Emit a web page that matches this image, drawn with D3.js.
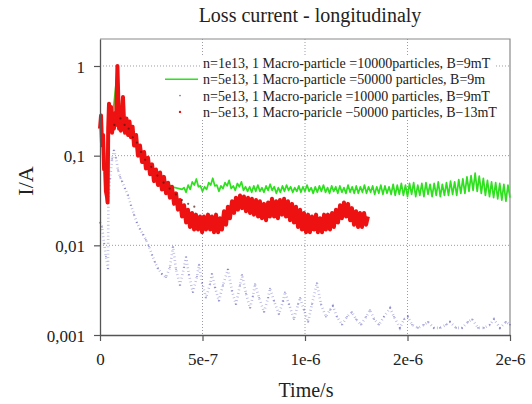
<!DOCTYPE html>
<html>
<head>
<meta charset="utf-8">
<title>Loss current - longitudinaly</title>
<script src="https://cdn.jsdelivr.net/npm/d3@7/dist/d3.min.js"></script>
<style>
  body { margin: 0; background: #fff; }
  text { font-family: "Liberation Serif", "Times New Roman", serif; fill: #222; }
</style>
</head>
<body>
<script>
// ---- data (time in microseconds, current in A) ----
var xTicks = [0, 0.5, 1, 1.5, 2];
var xTickLabels = ["0", "5e-7", "1e-6", "2e-6", "2e-6"];
var yTicks = [0.001, 0.01, 0.1, 1];
var yTickLabels = ["0,001", "0,01", "0,1", "1"];

var legendLabels = [
  "n=1e13, 1 Macro-particle =10000particles, B=9mT",
  "n=5e13, 1 Macro-particle =50000 particles, B=9m",
  "n=5e13, 1 Macro-paricle =10000 particles, B=9mT",
  "n\u22125e13, 1 Macro-paricle \u221250000 particles, B\u221213mT"
];

// n=1e13 (dark dots, mostly under the red band)
var black1e13 = [[0.07,0.22],[0.1,0.26],[0.12,0.22],[0.14,0.2],[0.16,0.16],[0.18,0.14],[0.2,0.11],
  [0.22,0.09],[0.25,0.075],[0.28,0.06],[0.31,0.05],[0.34,0.043],[0.37,0.037],[0.4,0.032],[0.43,0.029],[0.46,0.027]];

// n=5e13, 50000 particles, B=9mT (green line)
var green5e13 = [[0,0.22],[0.01,0.18],[0.02,0.12],[0.03,0.05],[0.037,0.03],[0.042,0.25],[0.06,0.25],
  [0.085,0.9],[0.1,0.25],[0.13,0.2],[0.18,0.13],[0.24,0.08],[0.3,0.055],[0.35,0.045],[0.4,0.042],
  [0.41,0.044],[0.42,0.039],[0.43,0.047],[0.44,0.042],[0.45,0.051],[0.46,0.047],[0.47,0.055],[0.48,0.045],
  [0.49,0.046],[0.50,0.040],[0.51,0.045],[0.52,0.042],[0.53,0.050],[0.54,0.047],[0.55,0.056],[0.56,0.046],
  [0.57,0.047],[0.58,0.040],[0.59,0.046],[0.60,0.043],[0.61,0.050],[0.62,0.046],[0.63,0.053],[0.64,0.043],
  [0.65,0.046],[0.66,0.041],[0.67,0.049],[0.68,0.045],[0.69,0.051],[0.70,0.041],[0.71,0.045],[0.72,0.040],
  [0.73,0.045],[0.74,0.039],[0.75,0.046],[0.76,0.040],[0.77,0.047],[0.78,0.040],[0.79,0.044],[0.80,0.039],
  [0.81,0.046],[0.82,0.041],[0.83,0.048],[0.84,0.041],[0.85,0.045],[0.86,0.038],[0.87,0.044],[0.88,0.039],
  [0.89,0.046],[0.90,0.040],[0.91,0.047],[0.92,0.041],[0.93,0.045],[0.94,0.039],[0.95,0.044],[0.96,0.040],
  [0.97,0.046],[0.98,0.039],[0.99,0.045],[1.00,0.040],[1.01,0.047],[1.02,0.040],[1.03,0.044],[1.04,0.038],
  [1.05,0.045],[1.06,0.039],[1.07,0.046],[1.08,0.040],[1.09,0.047],[1.10,0.039],[1.11,0.044],[1.12,0.038],
  [1.13,0.046],[1.14,0.040],[1.15,0.045],[1.16,0.038],[1.17,0.046],[1.18,0.039],[1.19,0.044],[1.20,0.038],
  [1.21,0.047],[1.22,0.039],[1.23,0.045],[1.24,0.038],[1.25,0.046],[1.26,0.038],[1.27,0.045],[1.28,0.039],
  [1.29,0.047],[1.30,0.038],[1.31,0.045],[1.32,0.039],[1.33,0.046],[1.34,0.037],[1.35,0.045],[1.36,0.038],
  [1.37,0.047],[1.38,0.037],[1.39,0.046],[1.40,0.038],[1.41,0.045],[1.42,0.037],[1.43,0.048],[1.44,0.036],
  [1.45,0.047],[1.46,0.037],[1.47,0.049],[1.48,0.036],[1.49,0.047],[1.50,0.035],[1.51,0.049],[1.52,0.037],
  [1.53,0.050],[1.54,0.035],[1.55,0.047],[1.56,0.036],[1.57,0.049],[1.58,0.035],[1.59,0.050],[1.60,0.037],
  [1.61,0.048],[1.62,0.035],[1.63,0.049],[1.64,0.036],[1.65,0.051],[1.66,0.035],[1.67,0.048],[1.68,0.036],
  [1.69,0.050],[1.70,0.036],[1.71,0.052],[1.72,0.037],[1.73,0.051],[1.74,0.036],[1.75,0.054],[1.76,0.038],
  [1.77,0.055],[1.78,0.038],[1.79,0.058],[1.80,0.040],[1.81,0.060],[1.82,0.041],[1.83,0.064],[1.84,0.040],
  [1.85,0.059],[1.86,0.038],[1.87,0.056],[1.88,0.036],[1.89,0.053],[1.90,0.035],[1.91,0.051],[1.92,0.034],
  [1.93,0.050],[1.94,0.033],[1.95,0.049],[1.96,0.032],[1.97,0.048],[1.98,0.031],[1.99,0.047],[2.00,0.034]];

// n=5e13, 10000 particles, B=9mT (blue dots)
var blue5e13 = [[0,0.018],[0.01,0.016],[0.02,0.0105],[0.029,0.0075],[0.039,0.0055],[0.041,0.033],
  [0.049,0.055],[0.059,0.092],[0.068,0.115],[0.078,0.094],[0.088,0.069],[0.098,0.058],[0.107,0.052],
  [0.122,0.043],[0.137,0.036],[0.151,0.028],[0.166,0.022],[0.18,0.018],[0.195,0.0152],[0.21,0.0132],
  [0.224,0.0115],[0.239,0.0097],[0.254,0.0078],[0.268,0.0065],[0.283,0.0055],[0.302,0.0048],[0.322,0.0044],
  [0.341,0.0057],[0.356,0.0096],[0.371,0.0054],[0.39,0.0036],[0.41,0.0057],[0.42,0.0074],[0.434,0.0047],
  [0.453,0.0030],[0.473,0.0045],[0.483,0.0061],[0.498,0.0038],[0.517,0.0026],[0.537,0.0037],[0.546,0.0048],
  [0.561,0.0034],[0.58,0.0024],[0.6,0.0036],[0.624,0.0054],[0.644,0.0031],[0.663,0.0022],[0.683,0.0036],
  [0.693,0.0047],[0.712,0.0029],[0.732,0.0020],[0.746,0.0027],[0.756,0.0037],[0.776,0.0026],[0.8,0.0018],
  [0.82,0.0026],[0.829,0.0033],[0.849,0.0024],[0.873,0.0017],[0.893,0.0024],[0.902,0.0030],[0.922,0.0022],
  [0.946,0.0015],[0.966,0.0022],[0.976,0.0026],[0.995,0.0019],[1.015,0.0014],[1.034,0.0022],[1.058,0.0038],
  [1.078,0.0022],[1.102,0.0016],[1.122,0.0019],[1.136,0.0021],[1.156,0.0016],[1.18,0.0013],[1.205,0.0016],
  [1.229,0.0018],[1.249,0.0015],[1.273,0.0013],[1.298,0.0016],[1.317,0.0019],[1.337,0.0015],[1.361,0.0013],
  [1.385,0.0016],[1.415,0.0020],[1.434,0.0016],[1.463,0.0012],[1.483,0.0015],[1.502,0.0016],[1.522,0.0013],
  [1.551,0.0012],[1.58,0.0013],[1.6,0.0014],[1.629,0.0012],[1.658,0.0012],[1.688,0.0013],[1.707,0.0014],
  [1.737,0.0012],[1.766,0.0012],[1.795,0.0014],[1.815,0.0015],[1.844,0.0012],[1.873,0.0012],[1.902,0.0013],
  [1.922,0.0015],[1.951,0.0012],[1.98,0.0014],[2.0,0.0013]];

// n=5e13, 50000 particles, B=13mT (red dots)
var red5e13 = [[0,0.20],[0.005,0.28],[0.01,0.13],[0.015,0.17],[0.02,0.07],[0.024,0.08],[0.029,0.04],
  [0.034,0.035],[0.037,0.03],[0.04,0.2],[0.044,0.38],[0.049,0.25],[0.054,0.35],[0.059,0.18],[0.063,0.28],
  [0.068,0.2],[0.073,0.3],[0.078,0.22],[0.082,0.5],[0.085,1.0],[0.089,0.45],[0.093,0.2],[0.098,0.3],
  [0.102,0.19],[0.107,0.28],[0.112,0.45],[0.117,0.25],[0.122,0.18],[0.129,0.26],[0.137,0.17],[0.144,0.24],
  [0.151,0.16],[0.159,0.21],[0.166,0.13],[0.176,0.17],[0.185,0.1],[0.195,0.13],[0.205,0.085],[0.215,0.11],
  [0.224,0.072],[0.234,0.095],[0.244,0.062],[0.254,0.08],[0.263,0.052],[0.273,0.07],[0.283,0.047],
  [0.293,0.065],[0.302,0.042],[0.312,0.058],[0.322,0.038],[0.332,0.05],[0.341,0.034],[0.351,0.045],
  [0.361,0.029],[0.371,0.038],[0.38,0.025],[0.39,0.032],[0.4,0.021],[0.41,0.028],[0.42,0.018],[0.429,0.025],
  [0.439,0.016],[0.449,0.023],[0.459,0.015],[0.468,0.022],[0.478,0.015],[0.488,0.021],[0.498,0.014],
  [0.507,0.021],[0.517,0.015],[0.527,0.022],[0.537,0.015],[0.546,0.021],[0.556,0.014],[0.566,0.022],
  [0.576,0.014],[0.585,0.02],[0.595,0.015],[0.605,0.024],[0.615,0.017],[0.624,0.027],[0.634,0.02],
  [0.644,0.031],[0.654,0.023],[0.663,0.034],[0.673,0.025],[0.683,0.036],[0.693,0.026],[0.702,0.035],
  [0.712,0.024],[0.722,0.034],[0.732,0.023],[0.741,0.033],[0.751,0.022],[0.761,0.032],[0.771,0.021],
  [0.78,0.031],[0.79,0.02],[0.8,0.029],[0.81,0.019],[0.82,0.03],[0.829,0.021],[0.839,0.033],[0.849,0.021],
  [0.859,0.031],[0.868,0.02],[0.878,0.032],[0.888,0.022],[0.898,0.033],[0.907,0.021],[0.917,0.031],
  [0.927,0.019],[0.937,0.029],[0.946,0.018],[0.956,0.027],[0.966,0.016],[0.976,0.025],[0.985,0.015],
  [0.995,0.023],[1.005,0.014],[1.015,0.022],[1.024,0.014],[1.034,0.021],[1.044,0.015],[1.054,0.022],
  [1.063,0.014],[1.073,0.02],[1.083,0.014],[1.093,0.022],[1.102,0.015],[1.112,0.022],[1.122,0.015],
  [1.132,0.023],[1.141,0.016],[1.151,0.025],[1.161,0.018],[1.171,0.028],[1.18,0.02],[1.19,0.03],
  [1.2,0.021],[1.21,0.029],[1.22,0.019],[1.229,0.026],[1.239,0.017],[1.249,0.024],[1.259,0.016],
  [1.268,0.023],[1.278,0.016],[1.288,0.023],[1.298,0.017],[1.307,0.021]];

// ---- layout ----
var W = 532, H = 404;
var m = {left: 100, right: 22, top: 39, bottom: 69};

var svg = d3.select("body").append("svg")
  .attr("width", W).attr("height", H);

var x = d3.scaleLinear().domain([0, 2e-6]).range([m.left, W - m.right]);
var y = d3.scaleLog().domain([0.001, 2]).range([H - m.bottom, m.top]);

function px(d) { return x(d[0] * 1e-6); }
function py(d) { return y(d[1]); }

// grid
var grid = svg.append("g").attr("stroke", "#9a9aa8").attr("stroke-dasharray", "1,2").attr("stroke-width", 1);
grid.selectAll("line.gx").data(xTicks.slice(1, 4)).enter().append("line")
  .attr("x1", function(d){ return x(d * 1e-6); }).attr("x2", function(d){ return x(d * 1e-6); })
  .attr("y1", m.top).attr("y2", H - m.bottom);
grid.selectAll("line.gy").data(yTicks.slice(1)).enter().append("line")
  .attr("x1", m.left).attr("x2", W - m.right)
  .attr("y1", function(d){ return y(d); }).attr("y2", function(d){ return y(d); });

// frame (top / right)
svg.append("path")
  .attr("d", "M" + m.left + "," + m.top + "H" + (W - m.right) + "V" + (H - m.bottom))
  .attr("fill", "none").attr("stroke", "#8a8a8a").attr("stroke-width", 1.2);

// legend backing
var lg = {x: 200, y: 56};
svg.append("rect").attr("x", lg.x).attr("y", lg.y).attr("width", 296).attr("height", 62).attr("fill", "#fff");

// series
var line = d3.line().x(px).y(py);

svg.append("path").datum(blue5e13)
  .attr("d", line).attr("fill", "none")
  .attr("stroke", "#4646b8").attr("stroke-width", 2.6).attr("stroke-opacity", 0.4)
  .attr("stroke-dasharray", "0.8,2.8");
svg.append("g").selectAll("circle").data(blue5e13).enter().append("circle")
  .attr("cx", px).attr("cy", py).attr("r", 0.8).attr("fill", "#3030a0").attr("opacity", 0.55);

svg.append("path").datum(green5e13)
  .attr("d", line).attr("fill", "none")
  .attr("stroke", "#2ee01e").attr("stroke-width", 1.7).attr("stroke-linejoin", "round");

svg.append("path").datum(red5e13)
  .attr("d", line).attr("fill", "none")
  .attr("stroke", "#ee1111").attr("stroke-width", 4).attr("stroke-linejoin", "round");

svg.append("g").selectAll("circle").data(black1e13).enter().append("circle")
  .attr("cx", px).attr("cy", py).attr("r", 1.1).attr("fill", "#4a1a10").attr("opacity", 0.7);

// axes
var xAxis = d3.axisBottom(x).tickValues(xTicks.map(function(d){ return d * 1e-6; }))
  .tickFormat(function(d, i){ return xTickLabels[i]; }).tickSizeInner(6).tickSizeOuter(0).tickPadding(12);
var yAxis = d3.axisLeft(y).tickValues(yTicks)
  .tickFormat(function(d, i){ return yTickLabels[i]; }).tickSizeInner(6).tickSizeOuter(0).tickPadding(9);

var gx = svg.append("g").attr("transform", "translate(0," + (H - m.bottom) + ")").call(xAxis);
var gy = svg.append("g").attr("transform", "translate(" + m.left + ",0)").call(yAxis);
[gx, gy].forEach(function(g){
  g.select(".domain").attr("stroke", "#555").attr("stroke-width", 1.3);
  g.selectAll(".tick line").attr("stroke", "#555").attr("stroke-width", 1.2);
  g.selectAll(".tick text").attr("font-family", "Liberation Serif, serif").attr("font-size", 17).attr("fill", "#222");
});
gy.selectAll(".tick text").attr("dy", "0.36em");

// titles
svg.append("text").attr("x", 310).attr("y", 22).attr("text-anchor", "middle")
  .attr("font-size", 20).text("Loss current - longitudinaly");
svg.append("text").attr("x", 306).attr("y", 397).attr("text-anchor", "middle")
  .attr("font-size", 20).text("Time/s");
svg.append("text").attr("transform", "translate(33,181) rotate(-90)").attr("text-anchor", "middle")
  .attr("font-size", 22).text("I/A");

// legend
var rows = svg.append("g").selectAll("g").data(legendLabels).enter().append("g")
  .attr("transform", function(d, i){ return "translate(" + lg.x + "," + (lg.y + 7 + i * 16.3) + ")"; });
rows.append("text").attr("x", 3).attr("dy", "0.35em").attr("font-size", 14).text(function(d){ return d; });
rows.filter(function(d, i){ return i === 1; }).append("line")
  .attr("x1", -35).attr("x2", -2).attr("stroke", "#2ee01e").attr("stroke-width", 1.5);
rows.filter(function(d, i){ return i === 2; }).append("circle")
  .attr("cx", -20).attr("r", 0.8).attr("fill", "#6a6aa8");
rows.filter(function(d, i){ return i === 3; }).append("circle")
  .attr("cx", -20).attr("r", 1.2).attr("fill", "#ee1111");
</script>
</body>
</html>
